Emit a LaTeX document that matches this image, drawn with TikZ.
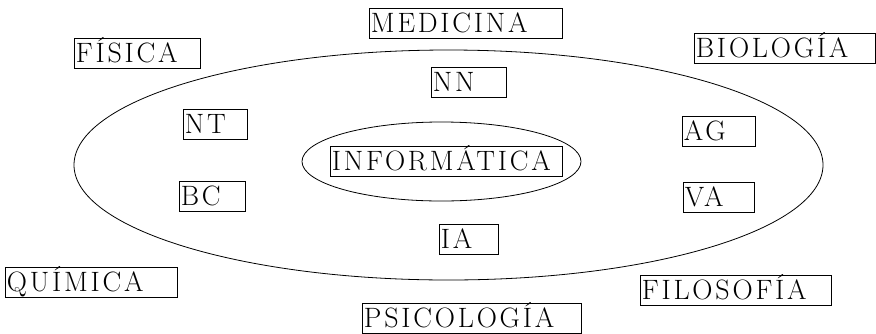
\documentclass[tikz,border=0pt]{standalone}
\usepackage{fontspec}
\newfontfamily\fieldfont{Latin Modern Roman}[LetterSpace=10]
\usetikzlibrary{shapes.geometric}

\begin{document}
\begin{tikzpicture}[x=1pt,y=-1pt,line width=0.8pt,
	every node/.style={font=\fieldfont\fontsize{28}{32}\selectfont},
	field/.style={draw,anchor=north west,inner xsep=1.5pt,inner ysep=0pt,text height=24pt,text depth=6pt,align=left},
	oval/.style={draw,ellipse,inner sep=0pt}]
	\useasboundingbox (0,0) rectangle (876,333);

	\node[oval,minimum width=749pt,minimum height=230pt] (area) at (448.5,165) {};
	\node[oval,minimum width=279pt,minimum height=79pt] (core) at (441.5,161.5) {};

	\node[field,text width=229pt] (inf) at (330,146) {INFORMÁTICA};
	\node[field,text width=72pt] (nn) at (431,67) {NN};
	\node[field,text width=61pt] (nt) at (183,109) {NT};
	\node[field,text width=63pt] (bc) at (179,181) {BC};
	\node[field,text width=56pt] (ia) at (439,224) {IA};
	\node[field,text width=70pt] (ag) at (682,116) {AG};
	\node[field,text width=68pt] (va) at (683,182) {VA};

	\node[field,text width=123pt] (fis) at (74,38) {FÍSICA};
	\node[field,text width=190pt] (med) at (369,8) {MEDICINA};
	\node[field,text width=178pt] (bio) at (694,33) {BIOLOGÍA};
	\node[field,text width=169pt] (qui) at (5,267) {QUÍMICA};
	\node[field,text width=188pt] (fil) at (640,275) {FILOSOFÍA};
	\node[field,text width=216pt] (psi) at (362,303) {PSICOLOGÍA};
\end{tikzpicture}
\end{document}
